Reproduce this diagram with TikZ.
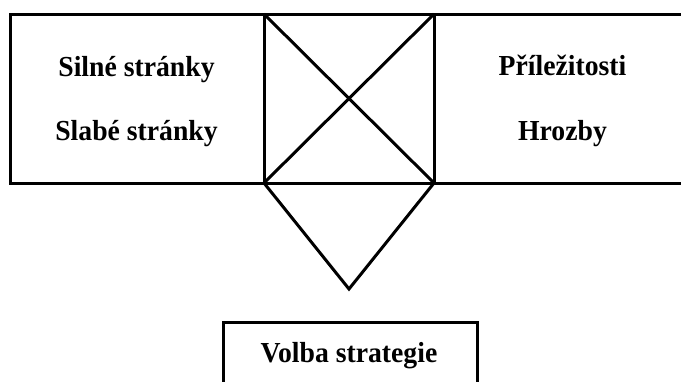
\documentclass[tikz,border=0pt]{standalone}
\usepackage{fontspec}
\usepackage{graphicx}
\setmainfont{Liberation Serif}
% bold, slightly narrowed caption text
\newcommand{\captext}[1]{\scalebox{0.955}[1]{\bfseries\fontsize{29}{34}\selectfont #1}}
\begin{document}
\begin{tikzpicture}[x=1pt,y=-1pt,
  frame/.style={line width=3pt,line join=miter,draw=black},
  label/.style={anchor=base,inner sep=0pt}]
  \useasboundingbox (0,0) rectangle (681,381);
  % corners of the analysis band
  \coordinate (tl) at (10,14);
  \coordinate (bl) at (10,183);
  \coordinate (sqtl) at (264,14);
  \coordinate (sqbl) at (264,183);
  \coordinate (sqtr) at (434,14);
  \coordinate (sqbr) at (434,183);
  \coordinate (tr) at (682,14);
  \coordinate (br) at (682,183);
  \coordinate (apex) at (349,289);
  % result box, open at the bottom
  \coordinate (rtl) at (223,322);
  \coordinate (rtr) at (477,322);
  \coordinate (rbl) at (223,382);
  \coordinate (rbr) at (477,382);

  \draw[frame] (tr) -- (tl) -- (bl) -- (br);
  \draw[frame] (sqtl) -- (sqbl);
  \draw[frame] (sqtr) -- (sqbr);
  \draw[frame] (sqtl) -- (sqbr);
  \draw[frame] (sqtr) -- (sqbl);
  \draw[frame] (sqbl) -- (apex) -- (sqbr);
  \draw[frame] (rbl) -- (rtl) -- (rtr) -- (rbr);

  \node[label] (silne) at (136.5,76) {\captext{Silné stránky}};
  \node[label] (slabe) at (136.5,140.5) {\captext{Slabé stránky}};
  \node[label] (prilez) at (562.5,75.5) {\captext{Příležitosti}};
  \node[label] (hrozby) at (562.5,140.5) {\captext{Hrozby}};
  \node[label] (volba) at (349,362) {\captext{Volba strategie}};
\end{tikzpicture}
\end{document}
